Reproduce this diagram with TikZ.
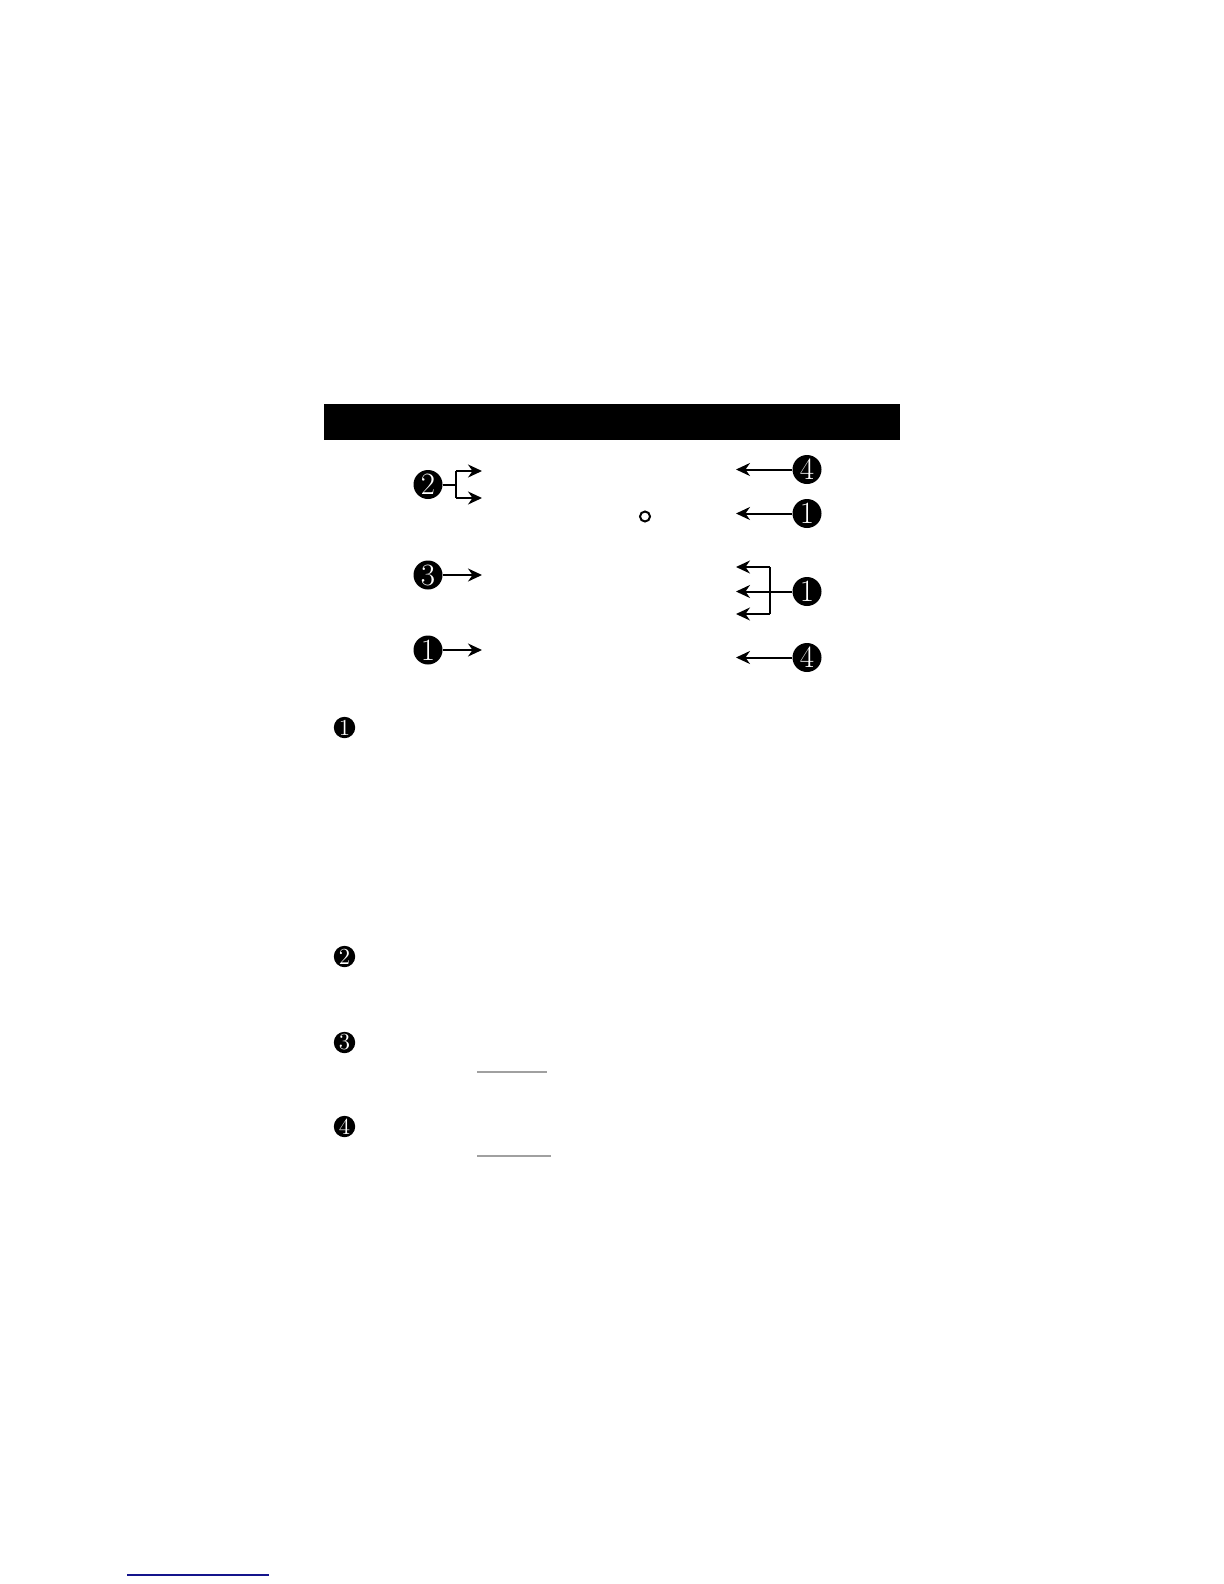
\documentclass[tikz,border=0pt]{standalone}
\usetikzlibrary{arrows.meta}
\begin{document}
\begin{tikzpicture}[x=0.5pt,y=-0.5pt,
  big/.style={circle,fill=black,text=white,inner sep=0pt,minimum size=14.5pt,font=\fontsize{15.5}{15.5}\selectfont},
  small/.style={circle,fill=black,text=white,inner sep=0pt,minimum size=10.7pt,font=\fontsize{11.5}{11.5}\selectfont},
  conn/.style={line width=1pt},
  arr/.style={line width=1pt,-{Stealth[length=7pt,width=6.5pt]}},
  grayline/.style={line width=1pt,draw={rgb,255:red,160;green,160;blue,160}},
  blueline/.style={line width=0.9pt,draw={rgb,255:red,20;green,20;blue,140}}]
\useasboundingbox (0,0) rectangle (1224,1584);
% header bar
\fill (324,404) rectangle (900,440);
% left column
\node[big] (L2) at (428,484.5) {2};
\coordinate (L2b) at (456,484.5);
\coordinate (L2t) at (456,471);
\coordinate (L2d) at (456,498);
\coordinate (L2ta) at (482,471);
\coordinate (L2da) at (482,498);
\draw[conn] (L2) -- (L2b);
\draw[conn] (L2t) -- (L2d);
\draw[arr] (L2t) -- (L2ta);
\draw[arr] (L2d) -- (L2da);
\node[big] (L3) at (428,575) {3};
\coordinate (L3a) at (482,575);
\draw[arr] (L3) -- (L3a);
\node[big] (L1) at (428,650) {1};
\coordinate (L1a) at (482,650);
\draw[arr] (L1) -- (L1a);
% degree mark
\node[circle,draw,line width=1pt,inner sep=0pt,minimum size=5pt] (deg) at (645,516.5) {};
% right column
\node[big] (R4a) at (807,469.5) {4};
\coordinate (R4aa) at (736,469.5);
\draw[arr] (R4a) -- (R4aa);
\node[big] (R1a) at (807,513.5) {1};
\coordinate (R1aa) at (736,513.5);
\draw[arr] (R1a) -- (R1aa);
\node[big] (R1b) at (807,591.5) {1};
\coordinate (R1bm) at (736,591.5);
\coordinate (R1bt) at (770,567);
\coordinate (R1bd) at (770,614);
\coordinate (R1bta) at (736,567);
\coordinate (R1bda) at (736,614);
\draw[arr] (R1b) -- (R1bm);
\draw[conn] (R1bt) -- (R1bd);
\draw[arr] (R1bt) -- (R1bta);
\draw[arr] (R1bd) -- (R1bda);
\node[big] (R4b) at (807,657.5) {4};
\coordinate (R4ba) at (736,657.5);
\draw[arr] (R4b) -- (R4ba);
% notes
\node[small] (N1) at (344.5,727.5) {1};
\node[small] (N2) at (344.5,956.5) {2};
\node[small] (N3) at (344.5,1042.5) {3};
\node[small] (N4) at (344.5,1126.5) {4};
\coordinate (g1a) at (477,1072);
\coordinate (g1b) at (547,1072);
\coordinate (g2a) at (477,1156);
\coordinate (g2b) at (551,1156);
\draw[grayline] (g1a) -- (g1b);
\draw[grayline] (g2a) -- (g2b);
% footer rule
\coordinate (b1) at (127,1575);
\coordinate (b2) at (269,1575);
\draw[blueline] (b1) -- (b2);
\end{tikzpicture}
\end{document}
